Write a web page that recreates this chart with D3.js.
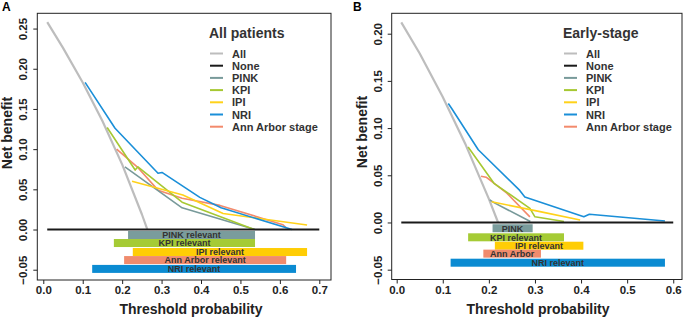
<!DOCTYPE html>
<html>
<head>
<meta charset="utf-8">
<script src="https://cdn.jsdelivr.net/npm/d3@7"></script>
<style>
  body { margin: 0; background: #fff; }
  text { font-family: "Liberation Sans", Arial, Helvetica, sans-serif; font-weight: bold; }
</style>
</head>
<body>
<script>
const w = 685, h = 318;

// legend order / names
const seriesNames = ["All", "None", "PINK", "KPI", "IPI", "NRI", "Ann Arbor stage"];
const lineColors  = ["#bdbdbd", "#1a1a1a", "#789a9a", "#a6c832", "#ffd21a", "#1a8fd8", "#f38a6c"];
const barColors   = { PINK: "#7a9c9c", KPI: "#a5cb35", IPI: "#ffcd05", NRI: "#0b8bd2", "Ann Arbor stage": "#f08b6d" };

// ---- panel A : all patients  ([threshold, net benefit])
const allA  = [[0.01, 0.258], [0.05, 0.226], [0.10, 0.183], [0.15, 0.135], [0.20, 0.081], [0.25, 0.019], [0.264, 0]];
const noneA = [[0.01, 0], [0.70, 0]];
const pinkA = [[0.207, 0.078], [0.352, 0.027], [0.537, 0]];
const kpiA  = [[0.162, 0.127], [0.233, 0.074], [0.240, 0.078], [0.352, 0.034], [0.535, 0]];
const ipiA  = [[0.225, 0.060], [0.354, 0.043], [0.456, 0.020], [0.669, 0.0056]];
const nriA  = [[0.106, 0.183], [0.182, 0.126], [0.291, 0.070], [0.301, 0.071], [0.397, 0.040], [0.451, 0.027], [0.631, 0]];
const annA  = [[0.186, 0.100], [0.238, 0.078], [0.291, 0.049], [0.352, 0.039], [0.448, 0.030], [0.608, 0.006], [0.616, 0.002]];

const barNamesA  = ["PINK", "KPI", "IPI", "Ann Arbor stage", "NRI"];
const barLabelsA = ["PINK relevant", "KPI relevant", "IPI relevant", "Ann Arbor relevant", "NRI relevant"];
const barFromA   = [0.215, 0.179, 0.227, 0.205, 0.124];
const barToA     = [0.537, 0.537, 0.669, 0.616, 0.641];
const barYA      = [-0.0068, -0.0168, -0.028, -0.038, -0.049];

// ---- panel B : early-stage
const allB  = [[0.01, 0.212], [0.05, 0.179], [0.10, 0.133], [0.15, 0.082], [0.20, 0.025], [0.22, 0]];
const noneB = [[0.01, 0], [0.60, 0]];
const pinkB = [[0.202, 0.024], [0.211, 0.021], [0.290, 0.001]];
const kpiB  = [[0.155, 0.080], [0.211, 0.0415], [0.289, 0.015], [0.300, 0.006], [0.363, 0.001]];
const ipiB  = [[0.206, 0.022], [0.311, 0.0115], [0.398, 0.0027]];
const nriB  = [[0.112, 0.126], [0.119, 0.121], [0.177, 0.077], [0.267, 0.034], [0.278, 0.027], [0.406, 0.006], [0.418, 0.0087], [0.582, 0.0016]];
const annB  = [[0.183, 0.049], [0.194, 0.048], [0.239, 0.031], [0.289, 0.006]];

const barNamesB  = ["PINK", "KPI", "IPI", "Ann Arbor stage", "NRI"];
const barLabelsB = ["PINK", "KPI relevant", "IPI relevant", "Ann Arbor", "NRI relevant"];
const barFromB   = [0.208, 0.155, 0.213, 0.188, 0.117];
const barToB     = [0.295, 0.363, 0.405, 0.313, 0.582];
const barYB      = [-0.0061, -0.0157, -0.0246, -0.033, -0.0426];

const xTicksA = [0, 0.1, 0.2, 0.3, 0.4, 0.5, 0.6, 0.7];
const yTicksA = [-0.05, 0, 0.05, 0.10, 0.15, 0.20, 0.25];
const xTicksB = [0, 0.1, 0.2, 0.3, 0.4, 0.5, 0.6];
const yTicksB = [-0.05, 0, 0.05, 0.10, 0.15, 0.20];

const svg = d3.select("body").append("svg")
    .attr("width", w).attr("height", h);

// draw order of curves (legend index)
const drawOrder = [0, 6, 2, 3, 4, 5, 1];

const panels = [
  { tag: "A", title: "All patients", box: { l: 37.3, r: 331, t: 13.3, b: 280 },
    xd: [-0.0152, 0.7297], yd: [-0.0628, 0.269],
    curves: [allA, noneA, pinkA, kpiA, ipiA, nriA, annA],
    bars: { names: barNamesA, labels: barLabelsA, from: barFromA, to: barToA, y: barYA },
    xTicks: xTicksA, yTicks: yTicksA, legX: 209, ylabX: 12, ylabY: 133, xlabX: 191, tagX: 2 },
  { tag: "B", title: "Early-stage", box: { l: 391.7, r: 682, t: 13.3, b: 279.5 },
    xd: [-0.0108, 0.619], yd: [-0.0604, 0.2216],
    curves: [allB, noneB, pinkB, kpiB, ipiB, nriB, annB],
    bars: { names: barNamesB, labels: barLabelsB, from: barFromB, to: barToB, y: barYB },
    xTicks: xTicksB, yTicks: yTicksB, legX: 563, ylabX: 367, ylabY: 132, xlabX: 538, tagX: 353 }
];

panels.forEach(p => {
  const x = d3.scaleLinear().domain(p.xd).range([p.box.l, p.box.r]);
  const y = d3.scaleLinear().domain(p.yd).range([p.box.b, p.box.t]);
  const g = svg.append("g");

  // axes
  const xAxis = d3.axisBottom(x).tickValues(p.xTicks).tickFormat(d3.format(".1f")).tickSize(4).tickPadding(2);
  const yAxis = d3.axisLeft(y).tickValues(p.yTicks).tickFormat(d => d3.format(".2f")(d).replace("-", "\u2212")).tickSize(4).tickPadding(3);

  const gx = g.append("g").attr("transform", `translate(0,${p.box.b})`).call(xAxis);
  gx.select(".domain").remove();
  gx.selectAll("line").attr("stroke", "#222");
  gx.selectAll("text").attr("font-size", 11.5).attr("fill", "#222")
    .style("font-family", "Liberation Sans, Arial, sans-serif").style("font-weight", "bold");

  const gy = g.append("g").attr("transform", `translate(${p.box.l},0)`).call(yAxis);
  gy.select(".domain").remove();
  gy.selectAll("line").attr("stroke", "#222");
  gy.selectAll("text").attr("font-size", 11.5).attr("fill", "#222")
    .style("font-family", "Liberation Sans, Arial, sans-serif").style("font-weight", "bold")
    .attr("text-anchor", "middle")
    .attr("x", null).attr("dy", null)
    .attr("transform", "translate(-10,0) rotate(-90)");

  // frame
  g.append("rect")
    .attr("x", p.box.l).attr("y", p.box.t)
    .attr("width", p.box.r - p.box.l).attr("height", p.box.b - p.box.t)
    .attr("fill", "none").attr("stroke", "#222").attr("stroke-width", 1);

  // curves
  const line = d3.line().x(d => x(d[0])).y(d => y(d[1]));
  drawOrder.forEach(i => {
    g.append("path")
      .datum(p.curves[i])
      .attr("d", line)
      .attr("fill", "none")
      .attr("stroke", lineColors[i])
      .attr("stroke-width", i <= 1 ? 2.2 : 1.6)
      .attr("stroke-linejoin", "round");
  });

  // "relevant" bars
  const b = p.bars;
  b.names.forEach((n, i) => {
    g.append("rect")
      .attr("x", x(b.from[i])).attr("width", x(b.to[i]) - x(b.from[i]))
      .attr("y", y(b.y[i]) - 4).attr("height", 8)
      .attr("fill", barColors[n]);
    g.append("text")
      .attr("x", (x(b.from[i]) + x(b.to[i])) / 2)
      .attr("y", y(b.y[i]) + 3.3)
      .attr("text-anchor", "middle")
      .attr("font-size", 9)
      .attr("fill", "#333")
      .text(b.labels[i]);
  });

  // legend
  g.append("text").attr("x", p.legX).attr("y", 38)
    .attr("font-size", 14).attr("fill", "#333").text(p.title);
  seriesNames.forEach((s, i) => {
    const ly = 53.5 + i * 12.2;
    g.append("line")
      .attr("x1", p.legX + 1).attr("x2", p.legX + 14)
      .attr("y1", ly).attr("y2", ly)
      .attr("stroke", lineColors[i]).attr("stroke-width", 2);
    g.append("text").attr("x", p.legX + 23).attr("y", ly + 4)
      .attr("font-size", 11).attr("fill", "#333").text(s);
  });

  // axis titles
  g.append("text")
    .attr("transform", `translate(${p.ylabX},${p.ylabY}) rotate(-90)`)
    .attr("text-anchor", "middle").attr("font-size", 14).attr("fill", "#222")
    .text("Net benefit");
  g.append("text")
    .attr("x", p.xlabX).attr("y", 314)
    .attr("text-anchor", "middle").attr("font-size", 14).attr("fill", "#222")
    .text("Threshold probability");

  // panel tag
  svg.append("text").attr("x", p.tagX).attr("y", 11)
    .attr("font-size", 12).attr("fill", "#000").text(p.tag);
});
</script>
</body>
</html>
